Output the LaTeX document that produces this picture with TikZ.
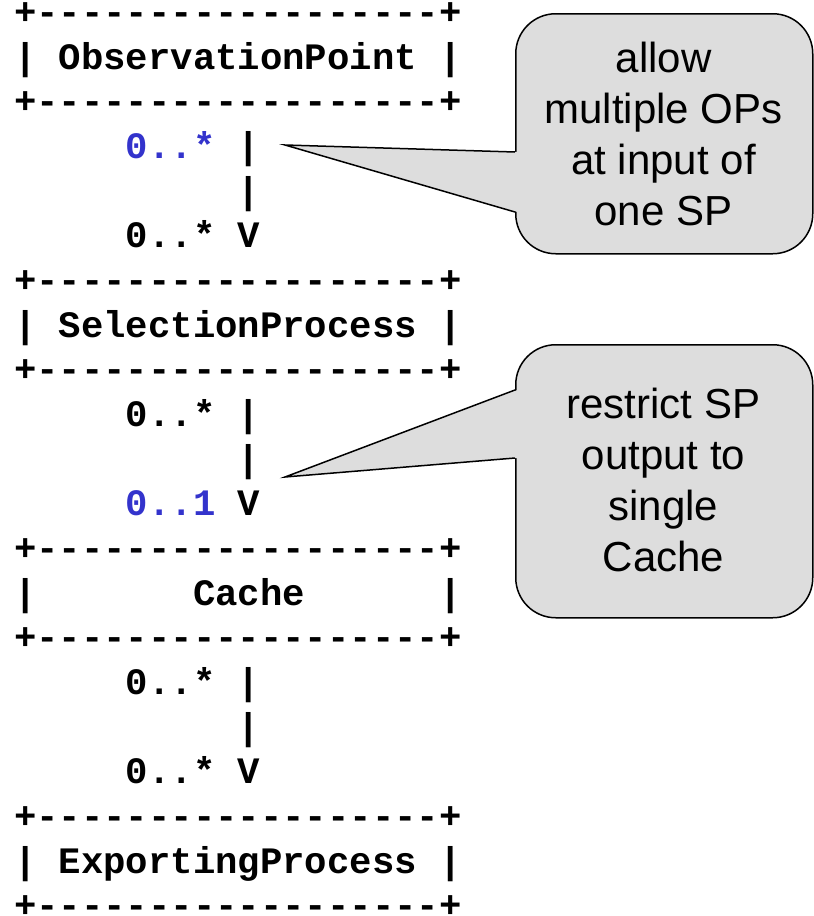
\documentclass[tikz,border=0pt]{standalone}
\usepackage{fontspec}
\setmainfont{Liberation Sans}
\setmonofont{Liberation Mono}
\definecolor{opblue}{RGB}{51,51,204}
\definecolor{calloutgray}{RGB}{221,221,221}
\begin{document}
\begin{tikzpicture}[x=1pt,y=-1pt,
  ascii/.style={anchor=base west, inner sep=0pt, font=\ttfamily\bfseries\fontsize{37.3}{44.65}\selectfont},
  note/.style={anchor=base, inner sep=0pt, align=center, font=\fontsize{42}{50.8}\selectfont},
  bubble/.style={draw=black, line width=1.5pt, fill=calloutgray, rounded corners=40pt, inner sep=0pt, anchor=north west},
  pointerline/.style={draw=black, line width=1.5pt},
]
\useasboundingbox (0,0) rectangle (814,916);

% ASCII diagram lines (baseline y = 24.65 + 44.65 i)
\node[ascii] (l0)  at (13.8, 24.65)  {+------------------+};
\node[ascii] (l1)  at (13.8, 69.3)   {|~ObservationPoint~|};
\node[ascii] (l2)  at (13.8, 113.95) {+------------------+};
\node[ascii] (l3)  at (13.8, 158.6)  {~~~~~\textcolor{opblue}{0..*}~|};
\node[ascii] (l4)  at (13.8, 203.25) {~~~~~~~~~~|};
\node[ascii] (l5)  at (13.8, 247.9)  {~~~~~0..*~V};
\node[ascii] (l6)  at (13.8, 292.55) {+------------------+};
\node[ascii] (l7)  at (13.8, 337.2)  {|~SelectionProcess~|};
\node[ascii] (l8)  at (13.8, 381.85) {+------------------+};
\node[ascii] (l9)  at (13.8, 426.5)  {~~~~~0..*~|};
\node[ascii] (l10) at (13.8, 471.15) {~~~~~~~~~~|};
\node[ascii] (l11) at (13.8, 515.8)  {~~~~~\textcolor{opblue}{0..1}~V};
\node[ascii] (l12) at (13.8, 560.45) {+------------------+};
\node[ascii] (l13) at (13.8, 605.1)  {|~~~~~~~Cache~~~~~~|};
\node[ascii] (l14) at (13.8, 649.75) {+------------------+};
\node[ascii] (l15) at (13.8, 694.4)  {~~~~~0..*~|};
\node[ascii] (l16) at (13.8, 739.05) {~~~~~~~~~~|};
\node[ascii] (l17) at (13.8, 783.7)  {~~~~~0..*~V};
\node[ascii] (l18) at (13.8, 828.35) {+------------------+};
\node[ascii] (l19) at (13.8, 873.0)  {|~ExportingProcess~|};
\node[ascii] (l20) at (13.8, 917.65) {+------------------+};

% Callout 1
\node[bubble, minimum width=297pt, minimum height=240pt] (cb1) at (515,13) {};
\coordinate (tip1) at (285,145);
\fill[calloutgray] (tip1) -- (517.5,152) -- (517.5,212) -- cycle;
\draw[pointerline] (515,152) -- (tip1) -- (515,212);
% anchor base = baseline of the last line
\node[note] (ct1) at (663.5,225.1) {allow\\multiple OPs\\at input of\\one SP};

% Callout 2
\node[bubble, minimum width=297pt, minimum height=273pt] (cb2) at (515,344) {};
\coordinate (tip2) at (285,477);
\fill[calloutgray] (tip2) -- (517.5,390) -- (517.5,458) -- cycle;
\draw[pointerline] (515,390) -- (tip2) -- (515,458);
\node[note] (ct2) at (663.5,571) {restrict SP\\output to\\single\\Cache};
\end{tikzpicture}
\end{document}
